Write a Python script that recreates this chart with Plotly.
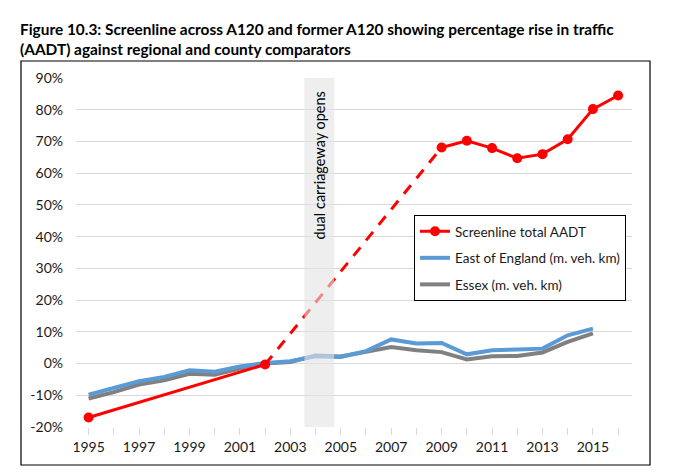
import plotly.graph_objects as go

# data (percentage change)
years = list(range(1995, 2016))
east_england = [-9.8, -7.6, -5.6, -4.2, -2.1, -2.6, -0.9, 0.2, 0.7, 2.3, 2.1,
                3.9, 7.6, 6.3, 6.5, 2.9, 4.2, 4.4, 4.7, 8.9, 11.0]
essex = [-11.0, -9.0, -6.6, -5.3, -3.2, -3.5, -1.6, 0.0, 0.5, 2.5, 2.2,
         3.6, 5.2, 4.2, 3.6, 1.3, 2.3, 2.4, 3.5, 6.8, 9.5]

screen_years = [1995, 2002, 2009, 2010, 2011, 2012, 2013, 2014, 2015, 2016]
screen_vals = [-17.0, -0.3, 68.1, 70.2, 67.9, 64.7, 66.0, 70.7, 80.2, 84.5]

y_ticks = list(range(-20, 100, 10))
y_labels = [f"{v}%" for v in y_ticks]
x_ticks = list(range(1995, 2017, 2))

band = [2003.56, 2004.74]

FONT = "Lato"
RED = "#ff0000"
BLUE = "#5b9bd5"
GREY = "#808080"

# plot area in pixels
L, R, T, B = 76, 632, 78, 427
W, H = 675, 472


def px_x(p):
    return (p - L) / (R - L)


def px_y(p):
    return (B - p) / (B - T)


fig = go.Figure()

fig.add_trace(go.Scatter(x=years, y=essex, mode="lines", name="Essex (m. veh. km)",
                         line=dict(color=GREY, width=4), legendrank=3, legendgroup="c"))
fig.add_trace(go.Scatter(x=years, y=east_england, mode="lines", name="East of England (m. veh. km)",
                         line=dict(color=BLUE, width=4), legendrank=2, legendgroup="b"))

# screenline: solid early, dashed gap, solid late
fig.add_trace(go.Scatter(x=screen_years[1:3], y=screen_vals[1:3], mode="lines",
                         line=dict(color=RED, width=3, dash="11px,9px"),
                         showlegend=False, legendgroup="a"))
fig.add_trace(go.Scatter(x=screen_years[:2], y=screen_vals[:2], mode="lines+markers",
                         line=dict(color=RED, width=3), marker=dict(size=10, color=RED),
                         showlegend=False, legendgroup="a"))
fig.add_trace(go.Scatter(x=screen_years[2:], y=screen_vals[2:], mode="lines+markers",
                         name="Screenline total AADT", legendrank=1, legendgroup="a",
                         line=dict(color=RED, width=3), marker=dict(size=10, color=RED)))

fig.add_shape(type="rect", xref="x", yref="paper", x0=band[0], x1=band[1], y0=0, y1=1,
              fillcolor="#e2e2e2", opacity=0.6, line=dict(width=0), layer="above")

fig.add_annotation(x=sum(band) / 2, y=62.5, xref="x", yref="y", text="dual carriageway opens",
                   textangle=-90, showarrow=False, font=dict(family=FONT, size=14.5, color="black"))

# chart frame
fig.add_shape(type="rect", xref="paper", yref="paper",
              x0=px_x(21), x1=px_x(650), y0=px_y(465), y1=px_y(61),
              line=dict(color="black", width=1.2), fillcolor="rgba(0,0,0,0)")

fig.add_annotation(xref="paper", yref="paper", x=px_x(18), y=px_y(18), xanchor="left", yanchor="top",
                   align="left", showarrow=False,
                   text="<b>Figure 10.3: Screenline across A120 and former A120 showing percentage rise in traffic"
                        "<br>(AADT) against regional and county comparators</b>",
                   font=dict(family=FONT, size=15.4, color="black"))

fig.update_layout(
    width=W, height=H,
    margin=dict(l=L, r=W - R, t=T, b=H - B),
    paper_bgcolor="white", plot_bgcolor="white",
    font=dict(family=FONT, size=14, color="#1a1a1a"),
    legend=dict(x=px_x(414), y=px_y(215), xanchor="left", yanchor="top",
                bordercolor="black", borderwidth=1, bgcolor="white",
                font=dict(size=13.5), tracegroupgap=6, traceorder="grouped"),
    xaxis=dict(range=[1994.5, 2016.55], tickvals=x_ticks, showgrid=False, zeroline=False,
               showline=False, ticks="", tickfont=dict(size=14), ticklabelstandoff=10,
               minor=dict(dtick=1, tick0=1995, ticks="outside", ticklen=7,
                          tickcolor="#d9d9d9", showgrid=False)),
    yaxis=dict(range=[-20, 90], tickvals=y_ticks, ticktext=y_labels, showgrid=True,
               gridcolor="#d9d9d9", gridwidth=1, zeroline=False, showline=False,
               ticks="", tickfont=dict(size=14), ticklabelstandoff=12),
)

fig.write_html("out.html", config={"displayModeBar": False},
               post_script="document.body.style.margin='0';")
